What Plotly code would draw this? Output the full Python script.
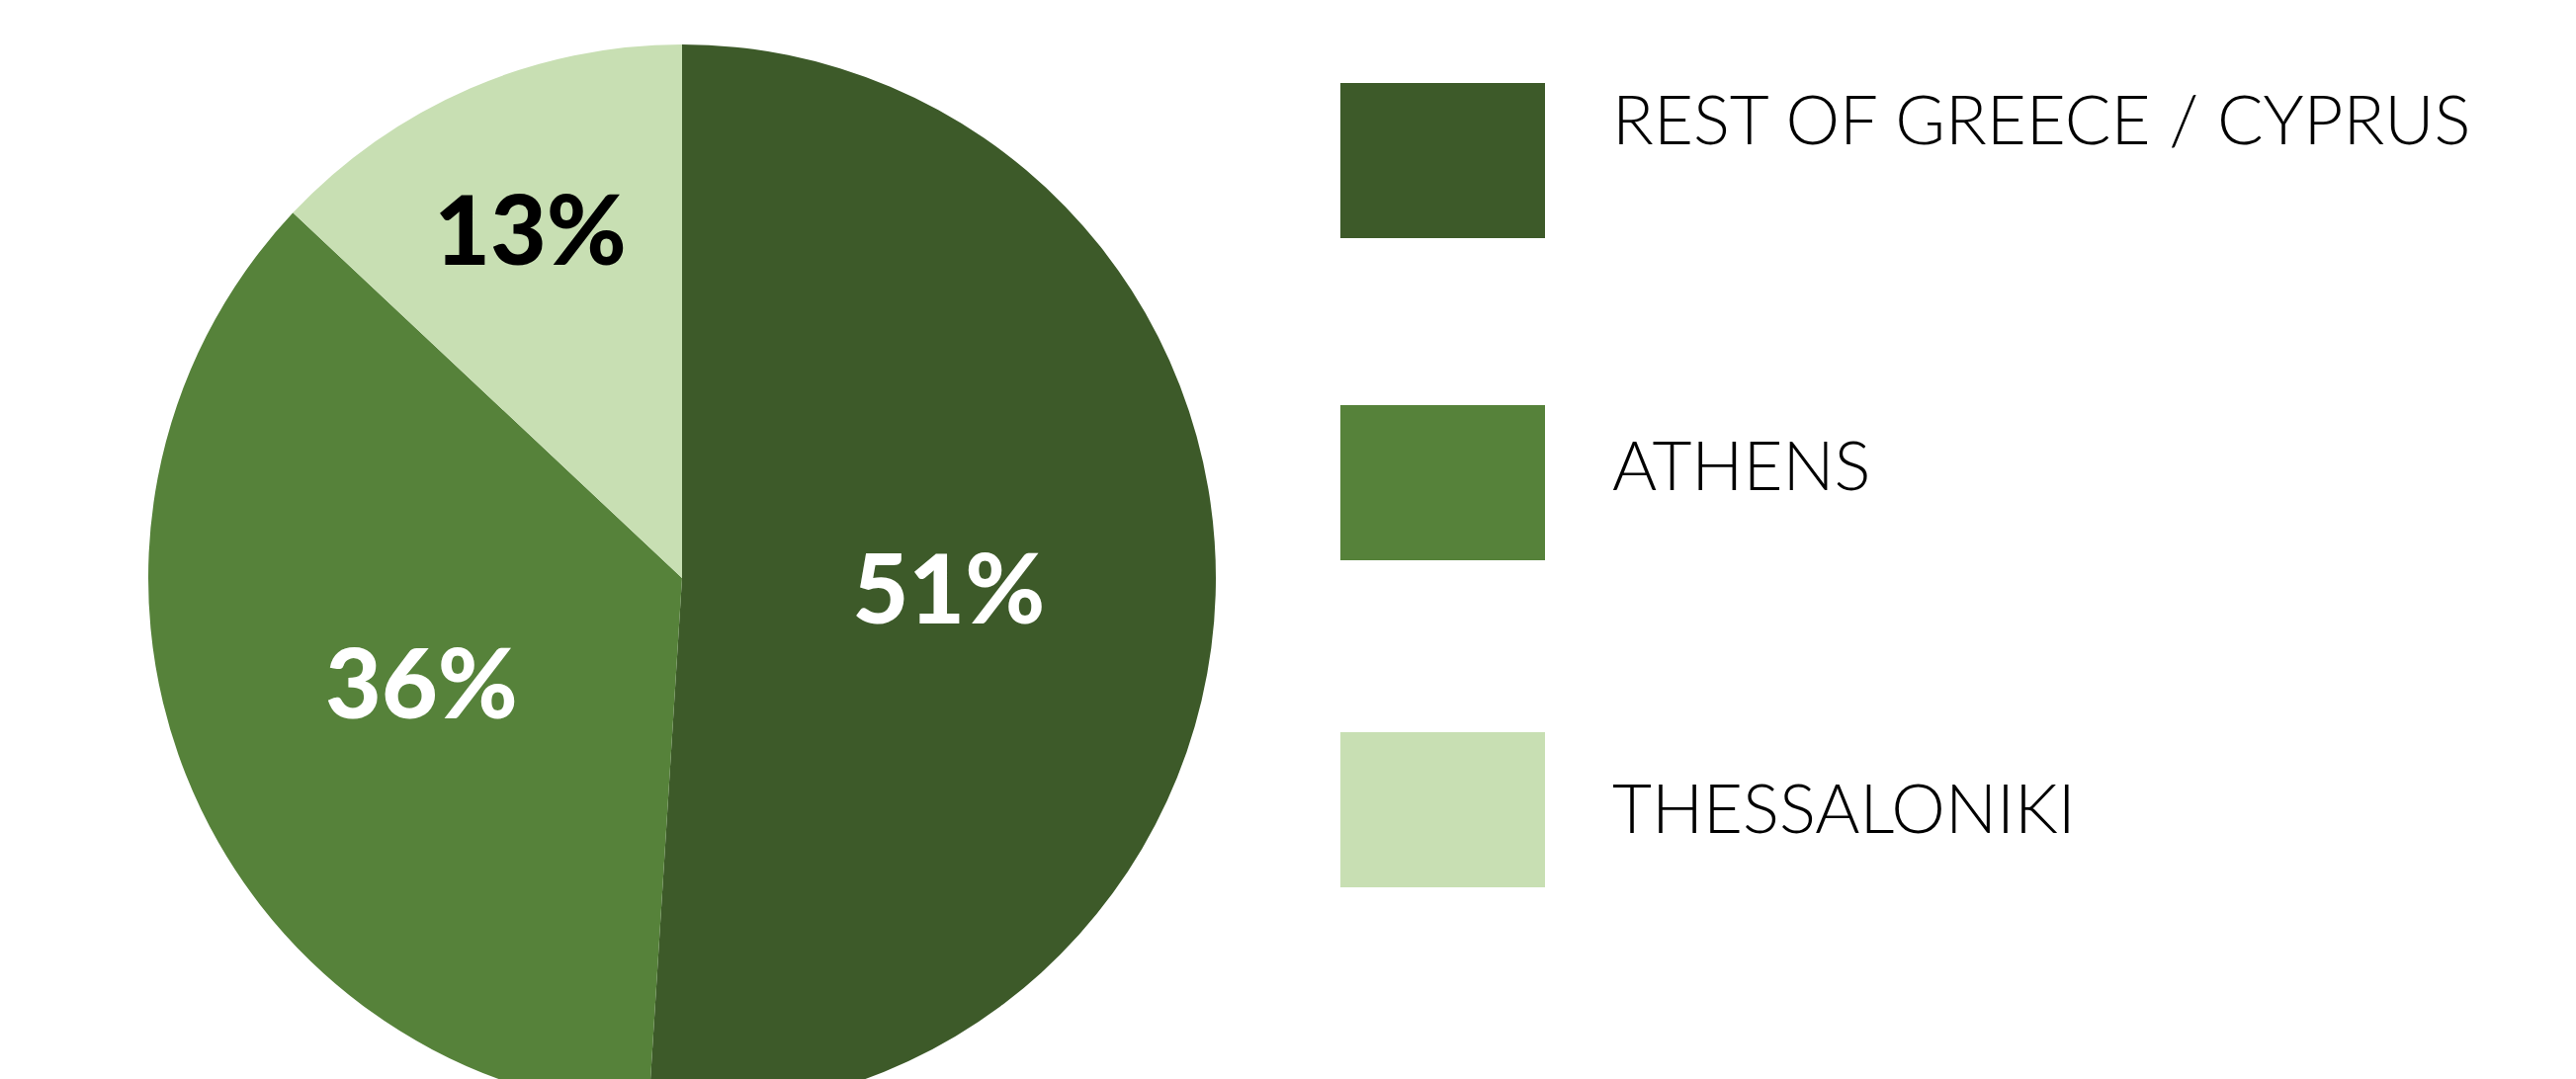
import plotly.graph_objects as go

W, H = 2606, 1120  # taller than the window so the pie runs off the bottom edge, as in the reference

regions = ["REST OF GREECE / CYPRUS", "ATHENS", "THESSALONIKI"]
shares = [51, 36, 13]
colors = ["#3d5a29", "#56823a", "#c8dfb3"]
label_colors = ["#ffffff", "#ffffff", "#000000"]

fig = go.Figure()

# pie geometry (pixels, page has an 8px body margin)
top_px = 37
r_px = 540
cx_px = 682

fig.add_trace(go.Pie(
    labels=regions,
    values=shares,
    sort=False,
    direction="clockwise",
    rotation=0,
    marker=dict(colors=colors, line=dict(width=0)),
    texttemplate="%{value}%",
    textposition="inside",
    insidetextorientation="horizontal",
    textfont=dict(family="Lato", size=98, color=label_colors, weight=900),
    hoverinfo="label+percent",
    showlegend=False,
    domain=dict(x=[(cx_px - r_px) / W, (cx_px + r_px) / W],
                y=[1 - (top_px + 2 * r_px) / H, 1 - top_px / H]),
))

# legend boxes and labels
box_x0, box_x1 = 1348, 1555
box_tops = [76, 402, 733]
box_h = 157
text_x = 1621
text_offsets = [36, 59, 75]

shapes = []
annotations = []
for i, (name, col) in enumerate(zip(regions, colors)):
    y0 = box_tops[i]
    shapes.append(dict(type="rect", xref="paper", yref="paper",
                       x0=box_x0 / W, x1=box_x1 / W,
                       y0=1 - (y0 + box_h) / H, y1=1 - y0 / H,
                       fillcolor=col, line=dict(width=0)))
    annotations.append(dict(xref="paper", yref="paper",
                            x=text_x / W, y=1 - (y0 + text_offsets[i]) / H,
                            xanchor="left", yanchor="middle",
                            text=name, showarrow=False,
                            font=dict(family="Lato", size=69, color="#000000", weight=300)))

fig.update_layout(
    width=W, height=H, autosize=False,
    margin=dict(l=0, r=0, t=0, b=0),
    paper_bgcolor="#ffffff", plot_bgcolor="#ffffff",
    shapes=shapes, annotations=annotations,
)

fig.write_html("out.html")
